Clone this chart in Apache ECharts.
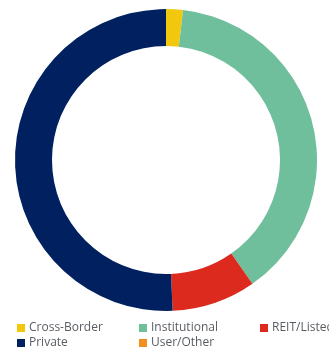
<!DOCTYPE html>
<html><head><meta charset="utf-8">
<script src="https://cdn.jsdelivr.net/npm/echarts@6/dist/echarts.min.js"></script>
<style>html,body{margin:0;padding:0;background:#fff;}#c{width:329px;height:350px;}</style>
</head><body><div id="c"></div>
<script>
const categories = ["Cross-Border", "Institutional", "REIT/Listed", "Private", "User/Other"];
const values = [1.8, 38.5, 9.0, 50.7, 0.0];
const colors = ["#F2C80F", "#6FBF9C", "#DC2A1F", "#002060", "#F28E1C"];
const legendPos = [[17, 322], [139, 322], [260, 322], [17, 337], [139, 337]];

const chart = echarts.init(document.getElementById('c'), null, {renderer: 'canvas'});
const legends = categories.map((name, i) => ({
  data: [name], left: legendPos[i][0], top: legendPos[i][1], orient: 'horizontal',
  itemWidth: 8, itemHeight: 8, itemGap: 0, icon: 'rect',
  selectedMode: false,
  textStyle: {fontFamily: 'Open Sans', fontSize: 12, color: '#595d63', padding: [0, 0, 0, -1]},
  padding: 0
}));
chart.setOption({
  animation: false,
  color: colors,
  legend: legends,
  series: [{
    type: 'pie',
    center: [166, 160],
    radius: [114, 151],
    startAngle: 90,
    clockwise: true,
    label: {show: false}, labelLine: {show: false},
    itemStyle: {borderWidth: 0},
    emphasis: {disabled: true},
    data: categories.map((c, i) => ({name: c, value: values[i]}))
  }]
});
</script></body></html>
